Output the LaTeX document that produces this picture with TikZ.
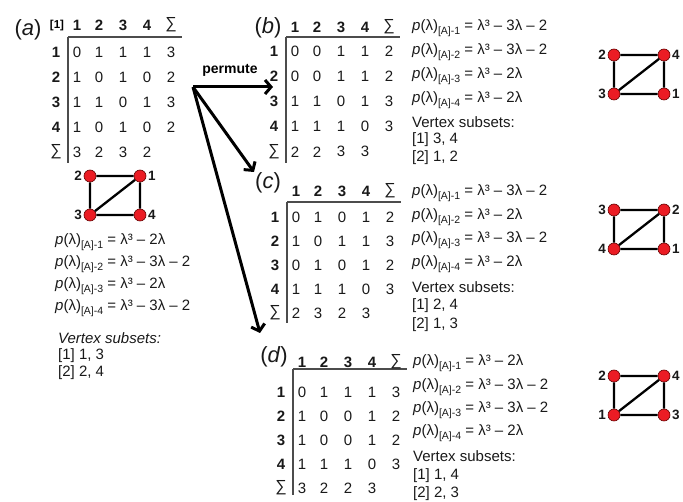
\documentclass[tikz,border=0pt]{standalone}
\usepackage{fontspec}
\setmainfont{Liberation Sans}
\usetikzlibrary{arrows.meta}
\definecolor{nodered}{RGB}{235,28,36}
\newcommand{\sbx}[1]{\raisebox{-0.45ex}{\fontsize{10.5}{11}\selectfont #1}}
\newcommand{\pl}{\textit{p}(λ)}
\newcommand{\matpanel}[8]{%
  \draw[rule] (#2,#4) -- ++(114,0);
  \draw[rule] (#2,#4) -- (#2,#7);
  \foreach \h/\dx [count=\i] in {1/9,2/31,3/55,4/79}
    \node[hd] (#1-h\i) at (#2+\dx,#3) {\h};
  \node[sig] (#1-hs) at (#2+103,#3) {∑};
  \foreach \i in {1,...,4}
    \node[hd] (#1-r\i) at (#2-12,{#5+(\i-1)*#6}) {\i};
  \node[sig] (#1-rs) at (#2-12,{#5+4*#6}) {∑};
  \foreach \row [count=\r] in {#8}{
    \foreach \v [count=\c] in \row {
      \pgfmathsetmacro\dx{{9,31,55,79,103}[\c-1]}
      \node[cell] (#1-\r-\c) at (#2+\dx,{#5+(\r-1)*#6}) {\v};
    }
  }
}
\begin{document}
\begin{tikzpicture}[x=1pt,y=-1pt,
  rule/.style={draw=black!70,line width=1.3pt},
  cell/.style={inner sep=0pt,font=\fontsize{15}{18}\selectfont,text=black!90},
  sig/.style={inner sep=0pt,font=\fontsize{16}{18}\selectfont,text=black!90},
  hd/.style={inner sep=0pt,font=\fontsize{15}{18}\selectfont\bfseries,text=black!90},
  txt/.style={inner sep=0pt,anchor=west,font=\fontsize{15}{18}\selectfont,text=black!90},
  plab/.style={inner sep=0pt,font=\fontsize{22}{22}\selectfont,text=black!90},
  vtx/.style={circle,fill=nodered,draw=red!40!black,line width=0.6pt,minimum size=12pt,inner sep=0pt},
  vlab/.style={font=\fontsize{13.5}{14}\selectfont\bfseries,inner sep=0pt,text=black!90},
  gedge/.style={line width=2.3pt},
  arr/.style={line width=3pt,-{Straight Barb[length=6pt,width=14pt]}}]
\useasboundingbox (0,0) rectangle (683,502);

% ---------- panel labels ----------
\node[plab] (la) at (28,30) {(\textit{a})};
\node[plab] (lb) at (268,28) {(\textit{b})};
\node[plab] (lc) at (268,183) {(\textit{c})};
\node[plab] (ld) at (274,357) {(\textit{d})};
\node[inner sep=0pt,font=\fontsize{11.5}{12}\selectfont\bfseries] (bk) at (57,26) {[1]};

% ---------- matrices ----------
\matpanel{A}{68}{25}{37}{52}{25}{163}{{0,1,1,1,3},{1,0,1,0,2},{1,1,0,1,3},{1,0,1,0,2},{3,2,3,2}}
\matpanel{B}{286}{27}{37}{51}{25.2}{163}{{0,0,1,1,2},{0,0,1,1,2},{1,1,0,1,3},{1,1,1,0,3},{2,2,3,3}}
\matpanel{C}{287}{191}{202}{217}{24}{323}{{0,1,0,1,2},{1,0,1,1,3},{0,1,0,1,2},{1,1,1,0,3},{2,3,2,3}}
\matpanel{D}{293}{362}{369}{392}{24}{495}{{0,1,1,1,3},{1,0,0,1,2},{1,0,0,1,2},{1,1,1,0,3},{3,2,2,3}}

% ---------- permute arrows ----------
\node[inner sep=0pt,font=\fontsize{14}{14}\selectfont\bfseries] (perm) at (230,70) {permute};
\coordinate (o) at (193,87);
\coordinate (tb) at (273,87);
\coordinate (tc) at (254,172);
\coordinate (td) at (260,333);
\draw[arr] (o) -- (tb);
\draw[arr] (o) -- (tc);
\draw[arr] (o) -- (td);

% ---------- polynomials (a) ----------
\node[txt] (pa1) at (55,242) {\pl\sbx{[A]-1} = λ³ – 2λ};
\node[txt] (pa2) at (55,264) {\pl\sbx{[A]-2} = λ³ – 3λ – 2};
\node[txt] (pa3) at (55,286) {\pl\sbx{[A]-3} = λ³ – 2λ};
\node[txt] (pa4) at (55,308) {\pl\sbx{[A]-4} = λ³ – 3λ – 2};
\node[txt] (va0) at (58,338) {\textit{Vertex subsets:}};
\node[txt] (va1) at (58,356) {[1] 1, 3};
\node[txt] (va2) at (58,373) {[2] 2, 4};

% ---------- polynomials (b) ----------
\node[txt] (pb1) at (412,28) {\pl\sbx{[A]-1} = λ³ – 3λ – 2};
\node[txt] (pb2) at (412,52) {\pl\sbx{[A]-2} = λ³ – 3λ – 2};
\node[txt] (pb3) at (412,76) {\pl\sbx{[A]-3} = λ³ – 2λ};
\node[txt] (pb4) at (412,100) {\pl\sbx{[A]-4} = λ³ – 2λ};
\node[txt] (vb0) at (412,122) {Vertex subsets:};
\node[txt] (vb1) at (412,140) {[1] 3, 4};
\node[txt] (vb2) at (412,158) {[2] 1, 2};

% ---------- polynomials (c) ----------
\node[txt] (pc1) at (412,193) {\pl\sbx{[A]-1} = λ³ – 3λ – 2};
\node[txt] (pc2) at (412,217) {\pl\sbx{[A]-2} = λ³ – 2λ};
\node[txt] (pc3) at (412,240) {\pl\sbx{[A]-3} = λ³ – 3λ – 2};
\node[txt] (pc4) at (412,264) {\pl\sbx{[A]-4} = λ³ – 2λ};
\node[txt] (vc0) at (412,287) {Vertex subsets:};
\node[txt] (vc1) at (412,306) {[1] 2, 4};
\node[txt] (vc2) at (412,325) {[2] 1, 3};

% ---------- polynomials (d) ----------
\node[txt] (pd1) at (413,363) {\pl\sbx{[A]-1} = λ³ – 2λ};
\node[txt] (pd2) at (413,387) {\pl\sbx{[A]-2} = λ³ – 3λ – 2};
\node[txt] (pd3) at (413,410) {\pl\sbx{[A]-3} = λ³ – 3λ – 2};
\node[txt] (pd4) at (413,433) {\pl\sbx{[A]-4} = λ³ – 2λ};
\node[txt] (vd0) at (413,456) {Vertex subsets:};
\node[txt] (vd1) at (413,476) {[1] 1, 4};
\node[txt] (vd2) at (413,494) {[2] 2, 3};

% ---------- graph (a) ----------
\node[vtx,label={[vlab,label distance=1.5pt]left:2}] (ga2) at (90,176) {};
\node[vtx,label={[vlab,label distance=1.5pt]right:1}] (ga1) at (140,176) {};
\node[vtx,label={[vlab,label distance=1.5pt]left:3}] (ga3) at (90,215) {};
\node[vtx,label={[vlab,label distance=1.5pt]right:4}] (ga4) at (140,215) {};
\draw[gedge] (ga2) -- (ga1) (ga2) -- (ga3) (ga3) -- (ga4) (ga1) -- (ga4) (ga3) -- (ga1);

% ---------- graph (b) ----------
\node[vtx,label={[vlab,label distance=1.5pt]left:2}] (gb2) at (614,55) {};
\node[vtx,label={[vlab,label distance=1.5pt]right:4}] (gb4) at (664,55) {};
\node[vtx,label={[vlab,label distance=1.5pt]left:3}] (gb3) at (614,94) {};
\node[vtx,label={[vlab,label distance=1.5pt]right:1}] (gb1) at (664,94) {};
\draw[gedge] (gb2) -- (gb4) (gb2) -- (gb3) (gb3) -- (gb1) (gb4) -- (gb1) (gb3) -- (gb4);

% ---------- graph (c) ----------
\node[vtx,label={[vlab,label distance=1.5pt]left:3}] (gc3) at (614,210) {};
\node[vtx,label={[vlab,label distance=1.5pt]right:2}] (gc2) at (664,210) {};
\node[vtx,label={[vlab,label distance=1.5pt]left:4}] (gc4) at (614,249) {};
\node[vtx,label={[vlab,label distance=1.5pt]right:1}] (gc1) at (664,249) {};
\draw[gedge] (gc3) -- (gc2) (gc3) -- (gc4) (gc4) -- (gc1) (gc2) -- (gc1) (gc4) -- (gc2);

% ---------- graph (d) ----------
\node[vtx,label={[vlab,label distance=1.5pt]left:2}] (gd2) at (614,376) {};
\node[vtx,label={[vlab,label distance=1.5pt]right:4}] (gd4) at (664,376) {};
\node[vtx,label={[vlab,label distance=1.5pt]left:1}] (gd1) at (614,415) {};
\node[vtx,label={[vlab,label distance=1.5pt]right:3}] (gd3) at (664,415) {};
\draw[gedge] (gd2) -- (gd4) (gd2) -- (gd1) (gd1) -- (gd3) (gd4) -- (gd3) (gd1) -- (gd4);
\end{tikzpicture}
\end{document}
